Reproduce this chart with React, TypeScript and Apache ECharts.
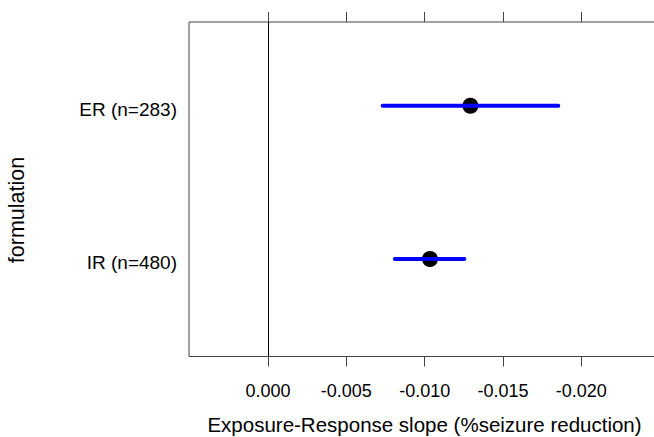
import React, { useEffect, useRef } from "react";
import * as echarts from "echarts";

const categories = ["IR (n=480)", "ER (n=283)"];
const estimates = [-0.01034, -0.01292];
const lowerCI = [-0.0081, -0.00732];
const upperCI = [-0.01253, -0.01853];
const xTicks = [0, -0.005, -0.01, -0.015, -0.02];

export default function App() {
  const ref = useRef<HTMLDivElement>(null);
  useEffect(() => {
    const chart = echarts.init(ref.current!, null, { renderer: "svg" });
    const font = "Liberation Sans, Arial, sans-serif";
    const pts = estimates.map((v, i) => [v, i + 1]);
    const bars = estimates.map((_, i) => [lowerCI[i], upperCI[i], i + 1]);
    chart.setOption({
      animation: false,
      grid: {
        left: 189,
        top: 22,
        width: 471,
        height: 334.5,
        outerBoundsMode: "none",
        containLabel: false,
        show: true,
        borderColor: "#444",
        borderWidth: 1,
        backgroundColor: "transparent",
      },
      graphic: [
        {
          type: "text",
          x: 17,
          y: 210,
          rotation: Math.PI / 2,
          style: {
            text: "formulation",
            fill: "#000",
            font: "21.5px " + font,
            align: "center",
            verticalAlign: "middle",
          },
        },
      ],
      xAxis: [
        {
          type: "value",
          inverse: true,
          min: -0.02502,
          max: 0.00504,
          position: "bottom",
          axisLine: { show: false },
          splitLine: { show: false },
          axisTick: { show: true, length: 10, customValues: xTicks, lineStyle: { color: "#444" } },
          axisLabel: {
            customValues: xTicks,
            formatter: (v: number) => (v === 0 ? "0.000" : v.toFixed(3)),
            color: "#000",
            fontFamily: font,
            fontSize: 18,
            margin: 25,
          },
          name: "Exposure-Response slope (%seizure reduction)",
          nameLocation: "middle",
          nameGap: 57,
          nameTextStyle: { color: "#000", fontFamily: font, fontSize: 20.5 },
        },
        {
          type: "value",
          inverse: true,
          min: -0.02502,
          max: 0.00504,
          position: "top",
          axisLine: { show: false },
          splitLine: { show: false },
          axisTick: { show: true, length: 10, customValues: xTicks, lineStyle: { color: "#444" } },
          axisLabel: { show: false },
        },
      ],
      yAxis: {
        type: "value",
        min: 0.364,
        max: 2.546,
        axisLine: { show: false },
        splitLine: { show: false },
        axisTick: { show: false },
        axisLabel: {
          customValues: [1, 2],
          formatter: (v: number) => "{a|" + (categories[Math.round(v) - 1] ?? "") + "}",
          color: "#000",
          fontFamily: font,
          fontSize: 19,
          margin: 12,
          rich: {
            a: { color: "#000", fontFamily: font, fontSize: 19, padding: [7, 0, 0, 0] },
          },
        },
      },
      series: [
        {
          type: "scatter",
          data: pts,
          symbol: "circle",
          symbolSize: 16,
          itemStyle: { color: "#000", opacity: 1 },
          z: 2,
          markLine: {
            silent: true,
            symbol: "none",
            label: { show: false },
            lineStyle: { color: "#000", width: 1, type: "solid" },
            data: [{ xAxis: 0 }],
          },
        },
        {
          type: "custom",
          data: bars,
          z: 3,
          renderItem: (params: any, api: any) => {
            const a = api.coord([api.value(0), api.value(2)]);
            const b = api.coord([api.value(1), api.value(2)]);
            return {
              type: "line",
              shape: { x1: a[0], y1: a[1], x2: b[0], y2: b[1] },
              style: { stroke: "#0000ff", lineWidth: 4, lineCap: "round" },
            };
          },
        },
      ],
    });
    return () => chart.dispose();
  }, []);
  return <div ref={ref} style={{ width: 654, height: 437, position: "absolute", left: 0, top: 0 }} />;
}
